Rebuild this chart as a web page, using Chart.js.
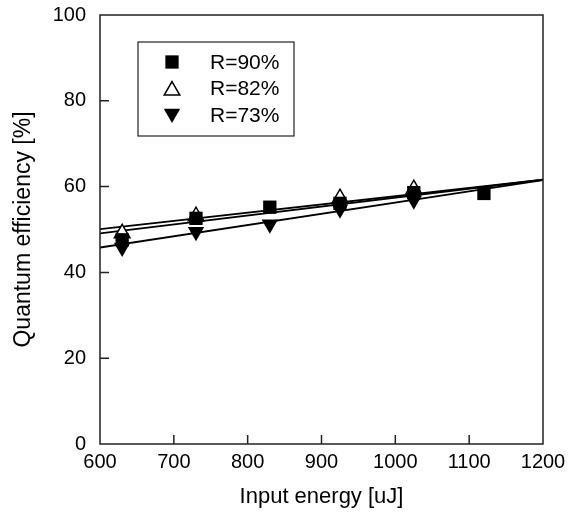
<!DOCTYPE html>
<html>
<head>
<meta charset="utf-8">
<script src="https://cdn.jsdelivr.net/npm/chart.js@4/dist/chart.umd.min.js"></script>
<style>
html,body{margin:0;padding:0;background:#fff;}
#wrap{width:579px;height:519px;}
</style>
</head>
<body>
<div id="wrap"><canvas id="c" width="579" height="519"></canvas></div>
<script>
// ---- data ----
const seriesNames = ['R=90%', 'R=82%', 'R=73%'];
const energy90 = [630, 730, 830, 925, 1025, 1120];
const eff90 = [47.6, 52.6, 55.2, 56.1, 58.6, 58.4];
const energy82 = [630, 730, 925, 1025];
const eff82 = [49.1, 53.1, 57.3, 59.4];
const energy73 = [630, 730, 830, 925, 1025];
const eff73 = [45.8, 49.5, 51.2, 54.7, 56.8];
const fitEnergy = [600, 1200];
const fit90 = [49.1, 61.6];
const fit82 = [50.1, 61.6];
const fit73 = [45.8, 61.5];
const xTicks = [600, 700, 800, 900, 1000, 1100, 1200];
const yTicks = [0, 20, 40, 60, 80, 100];

const pts = (xs, ys) => xs.map((x, i) => ({x: x, y: ys[i]}));
const FONT = '"Liberation Sans", Arial, sans-serif';

const pointStyles = [
  {pointStyle: 'rect', rotation: 0, radius: 9.4, backgroundColor: '#000', borderColor: '#000', borderWidth: 0},
  {pointStyle: 'triangle', rotation: 0, radius: 9, backgroundColor: '#fff', borderColor: '#000', borderWidth: 1.5},
  {pointStyle: 'triangle', rotation: 180, radius: 9.5, backgroundColor: '#000', borderColor: '#000', borderWidth: 0}
];

function scatterSet(i, xs, ys) {
  const s = pointStyles[i];
  return {
    label: seriesNames[i], type: 'scatter', data: pts(xs, ys), order: 0,
    showLine: false, pointStyle: s.pointStyle, rotation: s.rotation,
    pointRadius: s.radius, pointHoverRadius: s.radius,
    backgroundColor: s.backgroundColor, borderColor: s.borderColor,
    pointBorderWidth: s.borderWidth, borderWidth: s.borderWidth
  };
}
function fitSet(ys) {
  return {
    label: 'fit', type: 'line', data: pts(fitEnergy, ys), order: 1,
    borderColor: '#000', borderWidth: 1.8, pointRadius: 0, fill: false, tension: 0
  };
}

const framePlugin = {
  id: 'frame',
  afterDraw(chart) {
    const {ctx, chartArea: a, scales: {x, y}} = chart;
    ctx.save();
    ctx.strokeStyle = '#222';
    ctx.lineWidth = 1.5;
    ctx.strokeRect(a.left, a.top, a.right - a.left, a.bottom - a.top);
    ctx.beginPath();
    xTicks.slice(1, -1).forEach(v => {
      const px = x.getPixelForValue(v);
      ctx.moveTo(px, a.bottom); ctx.lineTo(px, a.bottom - 9);
    });
    yTicks.slice(1, -1).forEach(v => {
      const py = y.getPixelForValue(v);
      ctx.moveTo(a.left, py); ctx.lineTo(a.left + 9, py);
    });
    ctx.stroke();
    // legend
    const bx = a.left + 38, by = a.top + 27, bw = 156, bh = 94;
    ctx.lineWidth = 1.2;
    ctx.strokeRect(bx, by, bw, bh);
    ctx.font = '21px ' + FONT;
    ctx.textAlign = 'left';
    ctx.textBaseline = 'middle';
    seriesNames.forEach((name, i) => {
      const s = pointStyles[i];
      const cy = by + 20 + i * 26.5;
      ctx.fillStyle = s.backgroundColor;
      ctx.strokeStyle = s.borderColor;
      ctx.lineWidth = s.borderWidth;
      Chart.helpers.drawPoint(ctx, {pointStyle: s.pointStyle, rotation: s.rotation, radius: s.radius, borderWidth: s.borderWidth}, bx + 34, cy + (s.pointStyle === 'triangle' ? (s.rotation ? -1.5 : 2) : 0));
      ctx.fillStyle = '#000';
      ctx.fillText(name, bx + 72, cy + 1);
    });
    ctx.restore();
  }
};

new Chart(document.getElementById('c'), {
  data: {
    datasets: [
      scatterSet(0, energy90, eff90),
      scatterSet(1, energy82, eff82),
      scatterSet(2, energy73, eff73),
      fitSet(fit90), fitSet(fit82), fitSet(fit73)
    ]
  },
  options: {
    responsive: false,
    animation: false,
    layout: {padding: {top: 15, right: 36, left: 0, bottom: 0}},
    plugins: {legend: {display: false}, tooltip: {enabled: false}},
    scales: {
      x: {
        type: 'linear', min: 600, max: 1200,
        afterFit(s) { s.height = 75; s.paddingLeft = 0; s.paddingRight = 0; },
        afterBuildTicks(s) { s.ticks = xTicks.map(v => ({value: v})); },
        grid: {display: false, drawTicks: false},
        border: {display: false},
        ticks: {color: '#000', font: {family: FONT, size: 20}, padding: 6, maxRotation: 0, callback: v => String(v)},
        title: {display: true, text: 'Input energy [uJ]', color: '#000', font: {family: FONT, size: 22}, padding: {top: 0, bottom: 9}}
      },
      y: {
        type: 'linear', min: 0, max: 100,
        afterFit(s) { s.width = 100; s.paddingTop = 0; s.paddingBottom = 0; },
        afterBuildTicks(s) { s.ticks = yTicks.map(v => ({value: v})); },
        grid: {display: false, drawTicks: false},
        border: {display: false},
        ticks: {color: '#000', font: {family: FONT, size: 20}, padding: 14, callback: v => String(v)},
        title: {display: true, text: 'Quantum efficiency [%]', color: '#000', font: {family: FONT, size: 23}, padding: {top: 10, bottom: 0}}
      }
    }
  },
  plugins: [framePlugin]
});
</script>
</body>
</html>
